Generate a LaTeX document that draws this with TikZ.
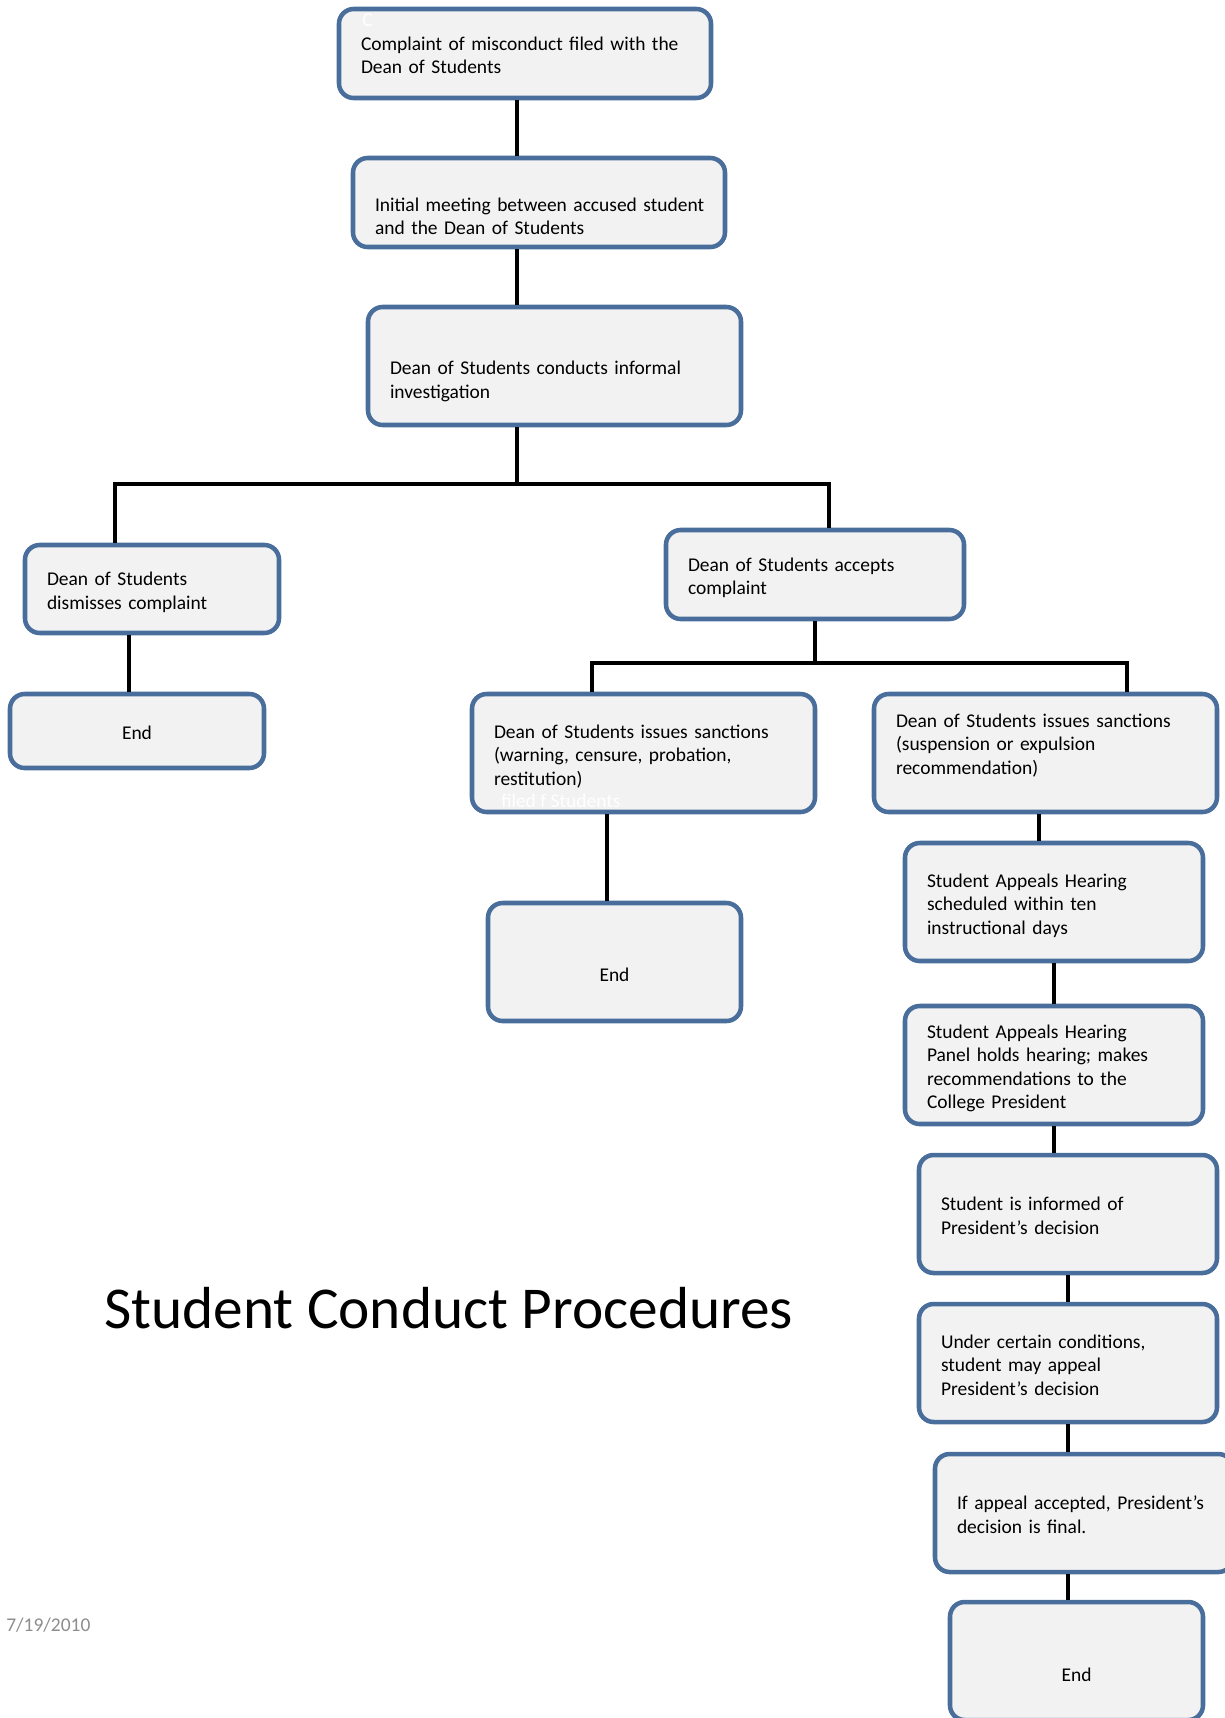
\documentclass[tikz,border=0pt]{standalone}
\usepackage{fontspec}
\setmainfont{Carlito}
\usetikzlibrary{calc}
\definecolor{boxline}{HTML}{4A6E9C}
\definecolor{boxfill}{HTML}{F2F2F2}
\definecolor{dategray}{HTML}{8C8C8C}
\newcommand{\boxfont}{\fontsize{14.6pt}{17.6pt}\selectfont}
\hyphenpenalty=10000
\exhyphenpenalty=10000
\hfuzz=20pt

\begin{document}
\begin{tikzpicture}[x=0.75pt,y=-0.75pt,
	box/.style={draw=boxline,fill=boxfill,line width=3.4pt,rounded corners=11pt,
		inner xsep=16.5pt,inner ysep=0pt,align=left,font=\boxfont,text height=18.3pt,
		execute at begin node=\strut,execute at end node=\strut},
	bw/.style={text width=#1*0.75pt-33pt},
	bh/.style={minimum height=#1*0.75pt},
	endbox/.style={box,align=center,minimum width=#1*0.75pt},
	txtdown/.style={text height=18.3pt+#1*1.5pt},
	link/.style={line width=2.6pt},
	ghost/.style={text=white,font=\boxfont,inner sep=0pt}]
			\useasboundingbox (0,0) rectangle (1225,1718);
			% boxes
			\node[box,bw=372,bh=89] (comp) at (525,53.5) {Complaint of misconduct filed with the\\Dean of Students};
			\node[box,bw=372,bh=89,txtdown=12] (meet) at (539,202.5) {\mbox{Initial meeting between accused student}\\and the Dean of Students};
			\node[box,bw=373,bh=118,txtdown=12] (invest) at (554.5,366) {Dean of Students conducts informal\\investigation};
			\node[box,bw=254,bh=88] (dismiss) at (152,589) {Dean of Students\\dismisses complaint};
			\node[box,bw=298,bh=89] (accept) at (815,574.5) {Dean of Students accepts\\complaint};
			\node[endbox=254,bh=74] (endA) at (137,731) {End};
			\node[box,bw=343,bh=118] (minor) at (643.5,753) {Dean of Students issues sanctions\\(warning, censure, probation,\\restitution)};
			\node[box,bw=343,bh=118,text depth=57pt] (major) at (1045.5,753) {Dean of Students issues sanctions\\(suspension or expulsion\\recommendation)};
			\node[endbox=253,bh=118,txtdown=11] (endB) at (614.5,962) {End};
			\node[box,bw=298,bh=118] (sched) at (1054,902) {Student Appeals Hearing\\scheduled within ten\\instructional days};
			\node[box,bw=298,bh=118] (panel) at (1054,1065) {Student Appeals Hearing\\Panel holds hearing; makes\\recommendations to the\\College President};
			\node[box,bw=298,bh=118] (inform) at (1068,1214) {Student is informed of\\President’s decision};
			\node[box,bw=298,bh=118] (cond) at (1068,1363) {Under certain conditions,\\student may appeal\\President’s decision};
			\node[box,bw=298,bh=118] (final) at (1084,1513) {If appeal accepted, President’s\\decision is final.};
			\node[endbox=253,bh=118,txtdown=12] (endC) at (1076.5,1661) {End};
			% leftover white text
			\node[ghost,anchor=base west] (ghostc) at (362,26) {C};
			\node[ghost,anchor=base west] (ghostf) at (501,807) {filed f Students};
			% connectors
			\coordinate (spine) at (517,0);
			\draw[link] (comp.south -| spine) -- (meet.north -| spine);
			\draw[link] (meet.south -| spine) -- (invest.north -| spine);
			\coordinate (fork1) at (517,484);
			\coordinate (fork1L) at (115,484);
			\coordinate (fork1R) at (829,484);
			\draw[link] (invest.south -| fork1) -- (fork1);
			\draw[link] (dismiss.north -| fork1L) -- (fork1L) -- (fork1R) -- (accept.north -| fork1R);
			\coordinate (fork2) at (815,663);
			\coordinate (fork2L) at (592,663);
			\coordinate (fork2R) at (1127,663);
			\draw[link] (accept.south -| fork2) -- (fork2);
			\draw[link] (minor.north -| fork2L) -- (fork2L) -- (fork2R) -- (major.north -| fork2R);
			\foreach \a/\b/\x in {dismiss/endA/129,minor/endB/607,major/sched/1039,sched/panel/1054,
				panel/inform/1054,inform/cond/1068,cond/final/1068,final/endC/1068}{
				\path (\x,0) coordinate (xc);
				\draw[link] (\a.south -| xc) -- (\b.north -| xc);
			}
			% title and date
			\node[anchor=base west,inner sep=0pt,font=\fontsize{44.5pt}{53pt}\selectfont] (title) at (104,1328) {Student Conduct Procedures};
			\node[anchor=base west,inner sep=0pt,text=dategray,font=\boxfont] (date) at (6,1631) {7/19/2010};
		\end{tikzpicture}
\end{document}
